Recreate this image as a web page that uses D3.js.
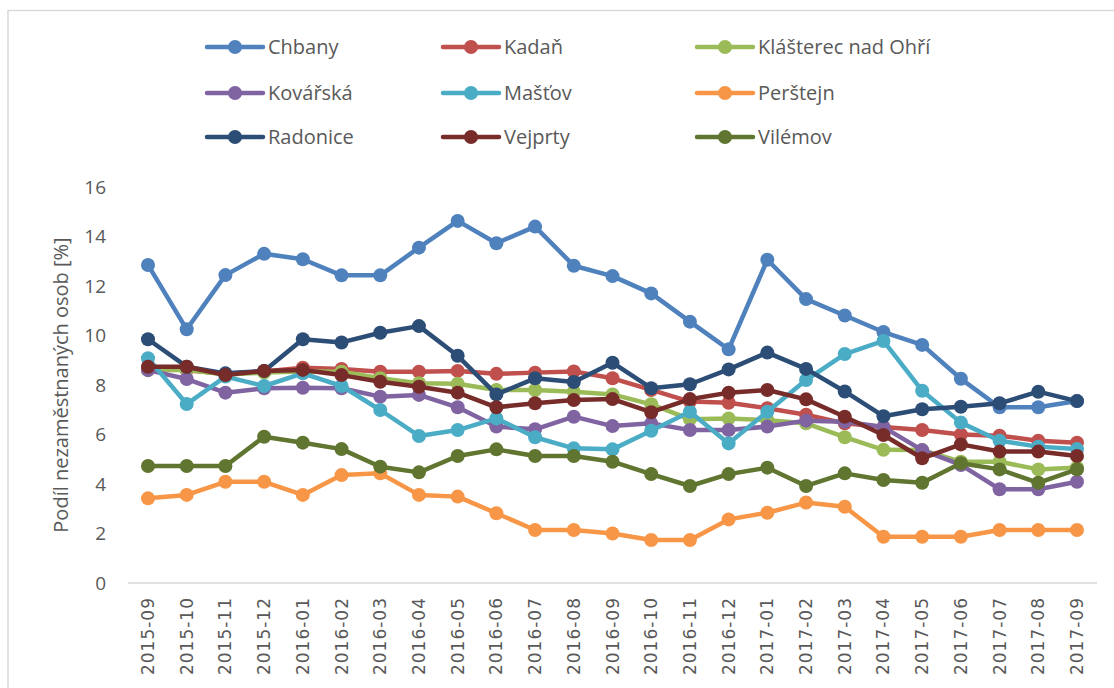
<!DOCTYPE html>
<meta charset="utf-8">
<script src="https://d3js.org/d3.v7.min.js"></script>
<style>
    body { margin: 0; background: #fff; }
    svg { display: block; }
</style>
<body>
<svg width="1114" height="688"></svg>
<script>
    // months on the x axis
    var months = ['2015-09', '2015-10', '2015-11', '2015-12', '2016-01', '2016-02', '2016-03',
        '2016-04', '2016-05', '2016-06', '2016-07', '2016-08', '2016-09', '2016-10', '2016-11',
        '2016-12', '2017-01', '2017-02', '2017-03', '2017-04', '2017-05', '2017-06', '2017-07',
        '2017-08', '2017-09'];

    var names = ['Chbany', 'Kadaň', 'Klášterec nad Ohří', 'Kovářská', 'Mašťov', 'Perštejn',
        'Radonice', 'Vejprty', 'Vilémov'];
    var colors = ['#4f81bd', '#c0504d', '#9bbb59', '#8064a2', '#4bacc6', '#f79646',
        '#2c4d75', '#772c2a', '#5f7530'];

    var chbany = [12.85, 10.25, 12.44, 13.3, 13.08, 12.43, 12.43, 13.55, 14.63, 13.73, 14.4,
        12.82, 12.4, 11.7, 10.56, 9.44, 13.06, 11.47, 10.81, 10.14, 9.62, 8.25, 7.1, 7.1, 7.35];
    var kadan = [8.7, 8.6, 8.45, 8.55, 8.7, 8.65, 8.54, 8.54, 8.57, 8.45, 8.5, 8.55, 8.27,
        7.8, 7.33, 7.28, 7.06, 6.8, 6.45, 6.3, 6.18, 6.0, 5.95, 5.75, 5.67];
    var klasterec = [8.6, 8.62, 8.42, 8.5, 8.55, 8.54, 8.27, 8.07, 8.05, 7.8, 7.8, 7.73, 7.62,
        7.22, 6.62, 6.65, 6.58, 6.45, 5.89, 5.38, 5.37, 4.9, 4.9, 4.59, 4.67];
    var kovarska = [8.6, 8.24, 7.69, 7.87, 7.89, 7.87, 7.53, 7.6, 7.1, 6.32, 6.21, 6.72, 6.34,
        6.45, 6.18, 6.18, 6.32, 6.56, 6.52, 6.3, 5.37, 4.77, 3.79, 3.79, 4.09];
    var mastov = [9.08, 7.23, 8.34, 7.96, 8.47, 7.96, 6.99, 5.94, 6.18, 6.65, 5.89, 5.44, 5.4,
        6.15, 6.92, 5.64, 6.92, 8.2, 9.25, 9.78, 7.77, 6.48, 5.75, 5.51, 5.41];
    var perstejn = [3.42, 3.56, 4.09, 4.09, 3.56, 4.36, 4.43, 3.56, 3.49, 2.82, 2.14, 2.14,
        2.0, 1.74, 1.74, 2.57, 2.84, 3.25, 3.08, 1.87, 1.87, 1.87, 2.14, 2.14, 2.14];
    var radonice = [9.85, 8.74, 8.47, 8.57, 9.85, 9.72, 10.11, 10.38, 9.18, 7.62, 8.27, 8.12,
        8.9, 7.87, 8.03, 8.63, 9.31, 8.65, 7.74, 6.74, 7.02, 7.12, 7.26, 7.73, 7.35];
    var vejprty = [8.74, 8.74, 8.4, 8.57, 8.61, 8.4, 8.13, 7.93, 7.69, 7.1, 7.26, 7.39, 7.43,
        6.9, 7.43, 7.69, 7.8, 7.42, 6.72, 5.98, 5.04, 5.6, 5.31, 5.31, 5.13];
    var vilemov = [4.73, 4.73, 4.73, 5.91, 5.67, 5.41, 4.7, 4.47, 5.13, 5.4, 5.13, 5.13, 4.9,
        4.4, 3.92, 4.4, 4.66, 3.92, 4.43, 4.16, 4.05, 4.84, 4.59, 4.05, 4.59];

    var yTicks = [0, 2, 4, 6, 8, 10, 12, 14, 16];

    var series = [chbany, kadan, klasterec, kovarska, mastov, perstejn, radonice, vejprty, vilemov]
        .map(function(v, i) { return { name: names[i], color: colors[i], values: v }; });

    var svg = d3.select('svg');

    // chart border (only left and top are inside the picture)
    svg.append('path')
        .attr('d', 'M8,688 L8,10.5 L1114,10.5')
        .attr('fill', 'none')
        .attr('stroke', '#d9d9d9')
        .attr('stroke-width', 1.5);

    var x = d3.scalePoint()
        .domain(months)
        .range([148, 1077]);
    var y = d3.scaleLinear()
        .domain([0, 16])
        .range([583, 187]);

    // y axis labels
    var yAxis = d3.axisLeft(y).tickValues(yTicks).tickSize(0).tickPadding(0);
    var gy = svg.append('g')
        .attr('transform', 'translate(106,0)')
        .call(yAxis);
    gy.select('.domain').remove();
    gy.selectAll('text')
        .attr('fill', '#595959')
        .style('font-family', 'Open Sans, sans-serif')
        .style('font-size', '19px')
        .attr('text-anchor', 'end');

    // x axis line + rotated labels
    svg.append('line')
        .attr('x1', 128).attr('x2', 1097)
        .attr('y1', y(0)).attr('y2', y(0))
        .attr('stroke', '#d9d9d9')
        .attr('stroke-width', 1.5);

    svg.append('g')
        .selectAll('text')
        .data(months)
        .enter()
        .append('text')
        .attr('transform', function(d) {
            return 'translate(' + (x(d) + 6) + ',597) rotate(-90)';
        })
        .attr('text-anchor', 'end')
        .attr('fill', '#595959')
        .style('font-family', 'DejaVu Sans, sans-serif')
        .style('font-size', '17px')
        .style('letter-spacing', '1px')
        .text(function(d) { return d; });

    // y axis title
    svg.append('text')
        .attr('transform', 'translate(68,385) rotate(-90)')
        .attr('text-anchor', 'middle')
        .attr('fill', '#595959')
        .style('font-family', 'Open Sans, sans-serif')
        .style('font-size', '20px')
        .text('Podíl nezaměstnaných osob [%]');

    var line = d3.line()
        .x(function(d, i) { return x(months[i]); })
        .y(function(d) { return y(d); });

    var plot = svg.append('g');
    series.forEach(function(s) {
        var g = plot.append('g');
        g.append('path')
            .attr('d', line(s.values))
            .attr('fill', 'none')
            .attr('stroke', s.color)
            .attr('stroke-width', 4.5)
            .attr('stroke-linejoin', 'round');
        g.selectAll('circle')
            .data(s.values)
            .enter()
            .append('circle')
            .attr('cx', function(d, i) { return x(months[i]); })
            .attr('cy', function(d) { return y(d); })
            .attr('r', 7)
            .attr('fill', s.color);
    });

    // legend: 3 columns x 3 rows
    var colX = [207, 443, 697];
    var rowY = [47, 93, 137];
    var legend = svg.append('g');
    series.forEach(function(s, i) {
        var lx = colX[i % 3], ly = rowY[Math.floor(i / 3)];
        var g = legend.append('g').attr('transform', 'translate(' + lx + ',' + ly + ')');
        g.append('line')
            .attr('x1', 0).attr('x2', 56)
            .attr('stroke', s.color)
            .attr('stroke-width', 4.5)
            .attr('stroke-linecap', 'round');
        g.append('circle')
            .attr('cx', 28).attr('r', 7)
            .attr('fill', s.color);
        g.append('text')
            .attr('x', 61)
            .attr('y', 7)
            .attr('fill', '#595959')
            .style('font-family', 'Open Sans, sans-serif')
            .style('font-size', '20px')
            .text(s.name);
    });
</script>
</body>
